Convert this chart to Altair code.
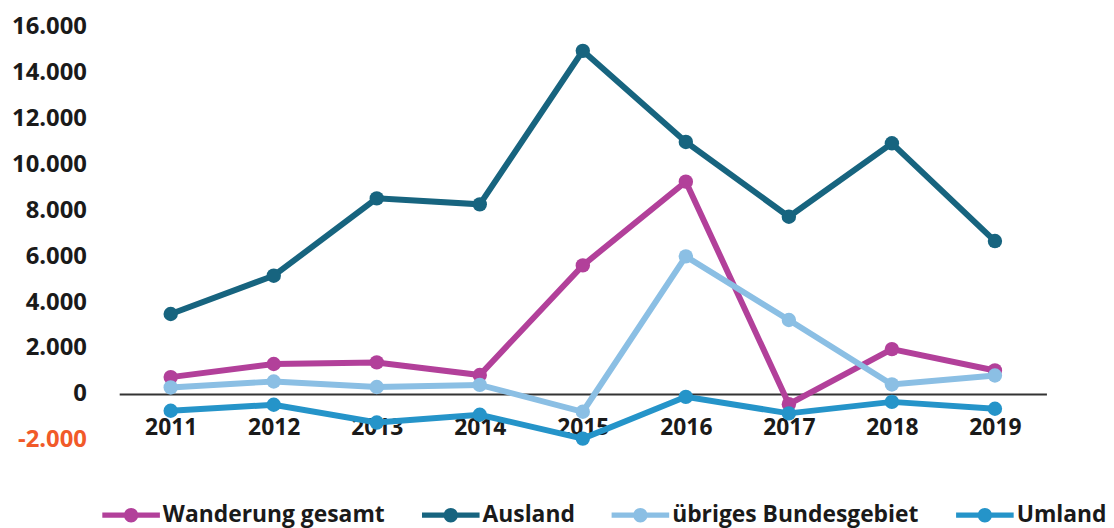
import altair as alt
import pandas as pd

years = ["2011", "2012", "2013", "2014", "2015", "2016", "2017", "2018", "2019"]
series = ["Wanderung gesamt", "Ausland", "übriges Bundesgebiet", "Umland"]
wanderung = [730, 1300, 1370, 820, 5600, 9250, -450, 1950, 1020]
ausland = [3480, 5150, 8520, 8260, 14950, 10980, 7720, 10920, 6660]
uebriges = [280, 540, 300, 390, -780, 5990, 3220, 410, 800]
umland = [-735, -475, -1250, -910, -1950, -130, -850, -350, -650]
colors = ["#b2409a", "#17647f", "#8bbfe4", "#2594c9"]
y_ticks = [-2000, 0, 2000, 4000, 6000, 8000, 10000, 12000, 14000, 16000]

rows = []
for name, vals in zip(series, [wanderung, ausland, uebriges, umland]):
    for yr, v in zip(years, vals):
        rows.append({"Jahr": yr, "Wert": v, "Reihe": name})
df = pd.DataFrame(rows)

FONT = "Open Sans"
legend_path = ("M-1,-0.09H1V0.09H-1Z "
               "M0.25,0A0.25,0.25 0 1,1 -0.25,0A0.25,0.25 0 1,1 0.25,0Z")

x_enc = alt.X(
    "Jahr:O",
    sort=years,
    scale=alt.Scale(padding=0.5),
    axis=alt.Axis(
        title=None, orient="bottom", offset=-46, domainColor="#333333",
        domainWidth=2, ticks=False, tickSize=0, labelAngle=0, labelFont=FONT,
        labelFontWeight="bold", labelFontSize=23, labelColor="#1a1a1a",
        labelPadding=23, grid=False,
    ),
)
y_enc = alt.Y(
    "Wert:Q",
    scale=alt.Scale(domain=[-2000, 16000], nice=False, zero=False),
    axis=alt.Axis(
        title=None, values=y_ticks, domain=False, ticks=False, tickSize=0,
        grid=False, labelPadding=33, labelFont=FONT, labelFontWeight="bold",
        labelFontSize=24,
        labelExpr="replace(replace(format(datum.value, ','), ',', '.'), '\u2212', '-')",
        labelColor=alt.ExprRef(expr="datum.value < 0 ? '#f15a29' : '#1a1a1a'"),
    ),
)
color_enc = alt.Color(
    "Reihe:N", scale=alt.Scale(domain=series, range=colors), sort=series,
    legend=alt.Legend(
        title=None, orient="none", direction="horizontal",
        legendX=-17, legendY=463, symbolType=legend_path,
        symbolSize=3364, symbolStrokeWidth=0, symbolOpacity=1,
        labelFont=FONT, labelFontSize=23, labelFontWeight="bold",
        labelColor="#1a1a1a", labelOffset=3, columnPadding=37,
        labelLimit=400, padding=0,
    ),
)

base = alt.Chart(df).encode(x=x_enc, y=y_enc, color=color_enc)
lines = base.mark_line(strokeWidth=6)
points = base.mark_point(filled=True, size=210, opacity=1)

chart = alt.layer(lines, points).properties(
    width=934, height=416,
    autosize=alt.AutoSizeParams(type="none"),
    padding={"left": 112, "top": 17, "right": 60, "bottom": 88},
).configure(background="white").configure_view(stroke=None, strokeWidth=0)

chart.save("out.html", embed_options={"renderer": "svg", "actions": False})
